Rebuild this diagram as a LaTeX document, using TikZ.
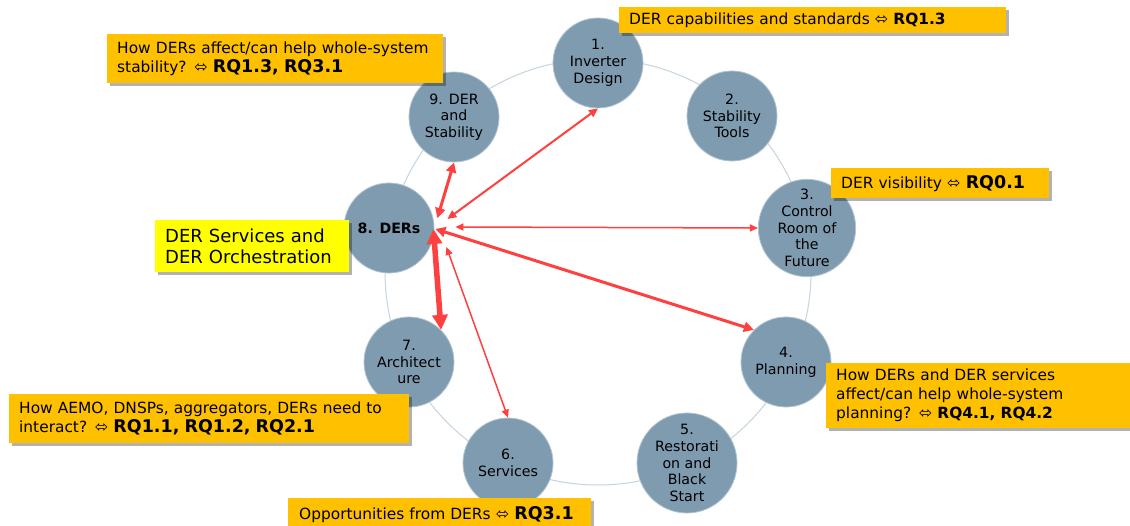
\documentclass[tikz,border=0pt]{standalone}
\usepackage{fontspec}
\setmainfont{DejaVu Sans}
\usetikzlibrary{shadows,arrows.meta,calc}
\definecolor{nodefill}{RGB}{127,155,176}
\definecolor{nodeedge}{RGB}{178,196,210}
\definecolor{ringc}{RGB}{196,212,226}
\definecolor{arrred}{RGB}{255,64,64}
\definecolor{boxorange}{RGB}{255,192,0}
\definecolor{boxyellow}{RGB}{255,255,0}
\newcommand{\rqb}[1]{{\fontsize{17.5}{20}\selectfont\bfseries #1}}
\newcommand{\lra}{{\fontsize{16}{16}\selectfont ⬄}}
\begin{document}
\begin{tikzpicture}[x=1pt,y=-1pt,
  topic/.style={circle, fill=nodefill, draw=nodeedge, line width=0.8pt,
    minimum size=90pt, inner sep=0pt, align=center,
    font=\fontsize{14.2}{16.7}\selectfont},
  callout/.style={fill=boxorange, anchor=north west, align=left,
    inner xsep=10pt, inner ysep=0pt,
    font=\fontsize{15.4}{19}\selectfont,
    drop shadow={shadow xshift=3pt, shadow yshift=-3pt, fill=black, opacity=0.3}},
  thin arr/.style={draw=arrred, line width=1.5pt,
    {Triangle[length=8pt,width=7pt]}-{Triangle[length=8pt,width=7pt]}},
  mid arr/.style={draw=arrred, line width=2pt,
    {Triangle[length=9pt,width=8pt]}-{Triangle[length=9pt,width=8pt]}},
  thick arr/.style={draw=arrred, line width=3pt,
    {Triangle[length=10pt,width=10pt]}-{Triangle[length=10pt,width=10pt]}},
  heavy arr/.style={draw=arrred, line width=5.5pt,
    {Triangle[length=15pt,width=15pt]}-{Triangle[length=15pt,width=15pt]}}
]
\useasboundingbox (0,0) rectangle (1130,526);
\fill[white] (0,0) rectangle (1130,526);

% ring
\draw[ringc, line width=1pt] (598,272) circle (213pt);

% topic nodes
\node[topic] (n1) at (598,63)  {1.\\Inverter\\Design};
\node[topic] (n2) at (732,116) {2.\\Stability\\Tools};
\node[topic] (n3) at (807,228) {3.\\Control\\Room of\\the\\Future};
\node[topic] (n4) at (786,362) {4.\\Planning};
\node[topic] (n5) at (687,463) {5.\\Restorati\\on and\\Black\\Start};
\node[topic] (n6) at (508,463) {6.\\Services};
\node[topic] (n7) at (409,362) {7.\\Architect\\ure};
\node[topic] (n8) at (389,228) {\bfseries 8. DERs};
\node[topic] (n9) at (454,117) {9. DER\\and\\Stability};

% hub points on the DERs node
\coordinate (h9) at ($(n8.east)+(3,-10)$);
\coordinate (h1) at ($(n8.east)+(13,-9)$);
\coordinate (h3) at ($(n8.east)+(21,-1)$);
\coordinate (h4) at ($(n8.east)+(1,1)$);
\coordinate (h7) at ($(n8.east)+(-1,1)$);
\coordinate (h6) at ($(n8.east)+(12,19)$);

% connectors
\draw[thick arr] (h9) -- (n9.south);
\draw[mid arr] (h1) -- (n1.south);
\draw[thin arr] (h3) -- (n3.west);
\draw[thick arr] (h4) -- (n4.north west);
\draw[heavy arr] (h7) -- (n7.north east);
\draw[thin arr] (h6) -- (n6.north);

% callouts
\node[callout, text width=367pt, minimum height=26pt] (c1) at (619,7)
  {DER capabilities and standards \lra\ \textbf{RQ1.3}};
\node[callout, text width=316pt, minimum height=49pt] (c2) at (107,34)
  {How DERs affect/can help whole-system\\stability? \lra\ \rqb{RQ1.3, RQ3.1}};
\node[callout, text width=198pt, minimum height=30pt] (c3) at (831,168)
  {DER visibility \lra\ \rqb{RQ0.1}};
\node[callout, text width=284pt, minimum height=65pt] (c4) at (826,363)
  {How DERs and DER services\\affect/can help whole-system\\planning? \lra\ \textbf{RQ4.1, RQ4.2}};
\node[callout, text width=380pt, minimum height=49pt] (c5) at (9,394)
  {How AEMO, DNSPs, aggregators, DERs need to\\interact? \lra\ \rqb{RQ1.1, RQ1.2, RQ2.1}};
\node[callout, text width=281pt, inner xsep=11pt, minimum height=32pt] (c6) at (288,498)
  {Opportunities from DERs \lra\ \rqb{RQ3.1}};
\node[callout, fill=boxyellow, text width=174pt, minimum height=52pt,
  font=\fontsize{18}{21}\selectfont] (c7) at (155,220)
  {DER Services and\\DER Orchestration};
\end{tikzpicture}
\end{document}
